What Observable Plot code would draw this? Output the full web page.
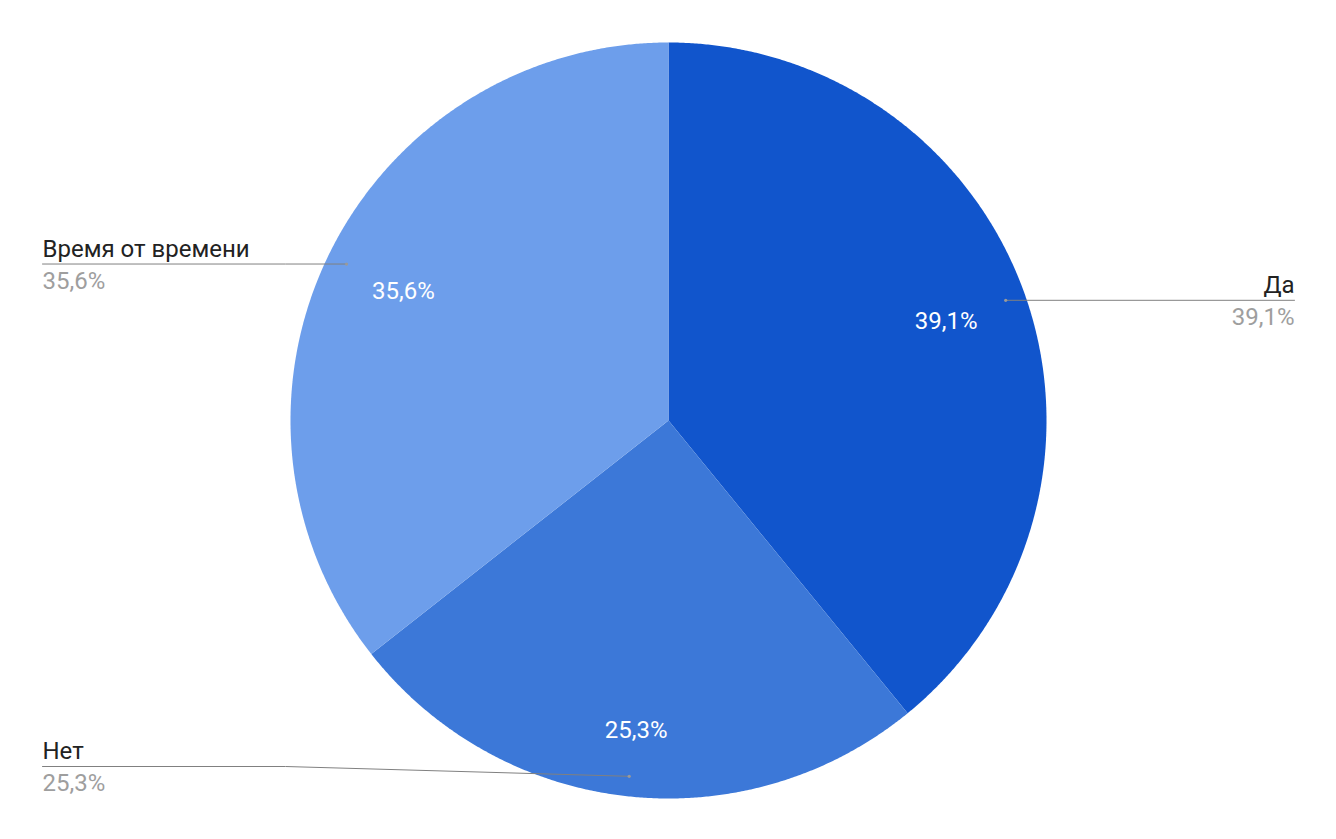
<!DOCTYPE html>
<html>
<head>
<meta charset="utf-8">
<script src="https://cdn.jsdelivr.net/npm/d3@7"></script>
<script src="https://cdn.jsdelivr.net/npm/@observablehq/plot@0.6"></script>
<style>
  html, body { margin: 0; padding: 0; background: #fff; }
  #chart svg { display: block; }
</style>
</head>
<body>
<div id="chart"></div>
<script>
// ---- data ----
const names = ["Да", "Нет", "Время от времени"];
const values = [39.1, 25.3, 35.6];
const valueLabels = ["39,1%", "25,3%", "35,6%"];
const colors = ["#1155cc", "#3c78d8", "#6d9eeb"];

// ---- layout ----
const W = 1336, H = 839;
const CX = 668, CY = 420, R = 378;       // pie centre & radius (px)
const LEFT_X = 42, RIGHT_X = 1294;       // outer label edges (px)
const ELBOW_X = 285;                     // elbow of left leader lines (px)
const MAX_LABEL_Y = 766;                 // lowest label row (px)
const FS = 24;
const toUx = px => (px - CX) / R;
const toUy = py => (CY - py) / R;

const arcs = d3.pie().sort(null).value(d => d)(values);

// slice polygons in unit coordinates (0 rad at 12 o'clock, clockwise)
const slicePts = [];
arcs.forEach((a, i) => {
  slicePts.push({name: names[i], x: 0, y: 0});
  const n = Math.max(2, Math.ceil((a.endAngle - a.startAngle) / 0.005));
  for (let k = 0; k <= n; k++) {
    const t = a.startAngle + (a.endAngle - a.startAngle) * k / n;
    slicePts.push({name: names[i], x: Math.sin(t), y: Math.cos(t)});
  }
  slicePts.push({name: names[i], x: 0, y: 0});
});

const mids = arcs.map(a => (a.startAngle + a.endAngle) / 2);
const anchors = mids.map((m, i) => ({name: names[i], x: 0.947 * Math.sin(m), y: 0.947 * Math.cos(m)}));
const inner = mids.map((m, i) => ({label: valueLabels[i], x: 0.78 * Math.sin(m), y: 0.78 * Math.cos(m) - (Math.cos(m) < -0.9 ? 0.045 : 0)}));

const leaderPts = [];
const outerLabels = [];
anchors.forEach((p, i) => {
  const right = p.x > 0;
  const rowY = Math.max(p.y, toUy(MAX_LABEL_Y));
  const endX = toUx(right ? RIGHT_X : LEFT_X);
  leaderPts.push({name: names[i], x: p.x, y: p.y});
  if (!right) leaderPts.push({name: names[i], x: toUx(ELBOW_X), y: rowY});
  leaderPts.push({name: names[i], x: endX, y: rowY});
  outerLabels.push({name: names[i], value: valueLabels[i], x: endX, y: rowY, anchor: right ? "end" : "start"});
});

const font = "Roboto, 'Noto Sans', sans-serif";

const chart = Plot.plot({
  width: W,
  height: H,
  margin: 0,
  style: {background: "#fff", fontFamily: font},
  x: {domain: [toUx(0), toUx(W)], axis: null},
  y: {domain: [toUy(H), toUy(0)], axis: null},
  color: {domain: names, range: colors},
  marks: [
    Plot.line(slicePts, {x: "x", y: "y", z: "name", fill: "name", stroke: "none", curve: "linear"}),
    Plot.line(leaderPts, {x: "x", y: "y", z: "name", stroke: "#808080", strokeWidth: 1}),
    Plot.dot(anchors, {x: "x", y: "y", r: 1.6, fill: "#9a9a9a", stroke: "none"}),
    Plot.text(inner, {x: "x", y: "y", text: "label", fill: "#fff", fontSize: FS, fontFamily: font}),
    ...["start", "end"].map(anc => Plot.text(outerLabels.filter(d => d.anchor === anc), {
      x: "x", y: "y", text: "name", textAnchor: anc, dy: -15, fill: "#222", fontSize: FS, fontFamily: font
    })),
    ...["start", "end"].map(anc => Plot.text(outerLabels.filter(d => d.anchor === anc), {
      x: "x", y: "y", text: "value", textAnchor: anc, dy: 17, fill: "#9e9e9e", fontSize: FS, fontFamily: font
    }))
  ]
});
document.getElementById("chart").appendChild(chart);
</script>
</body>
</html>
